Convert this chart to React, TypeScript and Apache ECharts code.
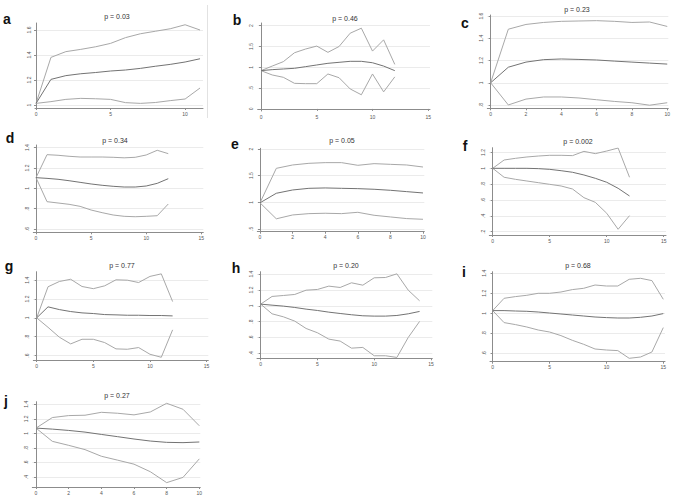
import React, { useEffect, useRef } from "react";
import * as echarts from "echarts";

const panelLetters = ["a", "b", "c", "d", "e", "f", "g", "h", "i", "j"];
const pTitles = ["p = 0.03", "p = 0.46", "p = 0.23", "p = 0.34", "p = 0.05", "p = 0.002", "p = 0.77", "p = 0.20", "p = 0.68", "p = 0.27"];

// panel a (t = 0..11)
const aUpper = [1.013, 1.381, 1.427, 1.445, 1.466, 1.493, 1.539, 1.57, 1.59, 1.61, 1.642, 1.6];
const aMid = [1.013, 1.205, 1.235, 1.25, 1.26, 1.272, 1.28, 1.293, 1.31, 1.325, 1.344, 1.37];
const aLower = [1.013, 1.027, 1.045, 1.053, 1.05, 1.045, 1.019, 1.013, 1.02, 1.035, 1.048, 1.136];
// panel b (t = 0..12)
const bUpper = [0.92, 1.03, 1.136, 1.35, 1.44, 1.51, 1.36, 1.5, 1.82, 1.94, 1.39, 1.66, 1.07];
const bMid = [0.92, 0.944, 0.96, 0.976, 1.016, 1.056, 1.096, 1.12, 1.144, 1.144, 1.11, 1.03, 0.92];
const bLower = [0.92, 0.816, 0.76, 0.615, 0.607, 0.607, 0.84, 0.75, 0.48, 0.34, 0.84, 0.41, 0.77];
// panel c (t = 0..10)
const cUpper = [1, 1.482, 1.525, 1.543, 1.553, 1.556, 1.559, 1.553, 1.543, 1.547, 1.507];
const cMid = [1, 1.14, 1.186, 1.208, 1.214, 1.21, 1.205, 1.195, 1.186, 1.177, 1.168];
const cLower = [1, 0.8, 0.853, 0.872, 0.872, 0.863, 0.847, 0.832, 0.82, 0.798, 0.82];
// panel d (t = 0..12)
const dUpper = [1.105, 1.331, 1.325, 1.315, 1.308, 1.308, 1.308, 1.305, 1.3, 1.305, 1.328, 1.374, 1.341];
const dMid = [1.105, 1.098, 1.089, 1.075, 1.059, 1.043, 1.03, 1.02, 1.013, 1.013, 1.023, 1.049, 1.095];
const dLower = [1.105, 0.869, 0.856, 0.843, 0.823, 0.787, 0.761, 0.738, 0.725, 0.721, 0.725, 0.731, 0.846];
// panel e (t = 0..10)
const eUpper = [0.99, 1.637, 1.7, 1.731, 1.744, 1.744, 1.694, 1.725, 1.712, 1.7, 1.662];
const eMid = [0.99, 1.169, 1.231, 1.262, 1.269, 1.262, 1.256, 1.244, 1.225, 1.2, 1.175];
const eLower = [0.99, 0.69, 0.762, 0.787, 0.794, 0.787, 0.812, 0.756, 0.725, 0.694, 0.681];
// panel f (t = 0..12)
const fUpper = [1, 1.105, 1.126, 1.143, 1.155, 1.164, 1.164, 1.16, 1.214, 1.185, 1.218, 1.256, 0.887];
const fMid = [1, 1, 1, 1, 0.996, 0.987, 0.97, 0.95, 0.916, 0.874, 0.824, 0.748, 0.651];
const fLower = [1, 0.887, 0.861, 0.84, 0.819, 0.798, 0.777, 0.739, 0.63, 0.571, 0.433, 0.231, 0.403];
// panel g (t = 0..12)
const gUpper = [1, 1.33, 1.386, 1.41, 1.333, 1.31, 1.34, 1.404, 1.4, 1.375, 1.44, 1.467, 1.173];
const gMid = [1, 1.117, 1.088, 1.067, 1.053, 1.046, 1.035, 1.032, 1.028, 1.028, 1.025, 1.025, 1.021];
const gLower = [1, 0.9, 0.795, 0.724, 0.773, 0.773, 0.738, 0.671, 0.667, 0.685, 0.614, 0.582, 0.873];
// panel h (t = 0..14)
const hUpper = [1.021, 1.118, 1.13, 1.143, 1.197, 1.206, 1.248, 1.231, 1.29, 1.26, 1.353, 1.357, 1.403, 1.197, 1.063];
const hMid = [1.021, 1.008, 0.996, 0.979, 0.958, 0.941, 0.92, 0.903, 0.887, 0.874, 0.87, 0.87, 0.878, 0.899, 0.929];
const hLower = [1.021, 0.899, 0.861, 0.807, 0.714, 0.66, 0.58, 0.555, 0.466, 0.475, 0.37, 0.37, 0.349, 0.601, 0.803];
// panel i (t = 0..15)
const iUpper = [1.027, 1.15, 1.167, 1.18, 1.2, 1.2, 1.213, 1.237, 1.25, 1.283, 1.273, 1.273, 1.34, 1.35, 1.327, 1.14];
const iMid = [1.027, 1.027, 1.023, 1.02, 1.013, 1.003, 0.993, 0.983, 0.973, 0.963, 0.957, 0.953, 0.953, 0.96, 0.973, 0.997];
const iLower = [1.027, 0.907, 0.887, 0.863, 0.833, 0.813, 0.777, 0.73, 0.69, 0.643, 0.633, 0.627, 0.55, 0.563, 0.613, 0.857];
// panel j (t = 0..10)
const jUpper = [1.073, 1.218, 1.245, 1.25, 1.29, 1.277, 1.255, 1.295, 1.414, 1.332, 1.105];
const jMid = [1.073, 1.059, 1.041, 1.018, 0.986, 0.955, 0.923, 0.895, 0.877, 0.873, 0.882];
const jLower = [1.073, 0.891, 0.836, 0.777, 0.686, 0.632, 0.577, 0.473, 0.323, 0.395, 0.65];

const xTicks = [
  [0, 5, 10],
  [0, 5, 10, 15],
  [0, 2, 4, 6, 8, 10],
  [0, 5, 10, 15],
  [0, 2, 4, 6, 8, 10],
  [0, 5, 10, 15],
  [0, 5, 10, 15],
  [0, 5, 10, 15],
  [0, 5, 10, 15],
  [0, 2, 4, 6, 8, 10],
];
const yTicks = [
  [1, 1.2, 1.4, 1.6],
  [0, 0.5, 1, 1.5, 2],
  [0.8, 1, 1.2, 1.4, 1.6],
  [0.6, 0.8, 1, 1.2, 1.4],
  [0.5, 1, 1.5, 2],
  [0.2, 0.4, 0.6, 0.8, 1, 1.2],
  [0.6, 0.8, 1, 1.2, 1.4],
  [0.4, 0.6, 0.8, 1, 1.2, 1.4],
  [0.6, 0.8, 1, 1.2, 1.4],
  [0.4, 0.6, 0.8, 1, 1.2, 1.4],
];

const panelSeries = [
  [aUpper, aMid, aLower],
  [bUpper, bMid, bLower],
  [cUpper, cMid, cLower],
  [dUpper, dMid, dLower],
  [eUpper, eMid, eLower],
  [fUpper, fMid, fLower],
  [gUpper, gMid, gLower],
  [hUpper, hMid, hLower],
  [iUpper, iMid, iLower],
  [jUpper, jMid, jLower],
];

// layout (pixels) and axis ranges for each panel
const layouts = [
  { left: 35, top: 23, width: 168, height: 85, xmin: -0.07, xmax: 11.2, ymin: 0.976, ymax: 1.656, lx: 7, ly: 19, tx: 117, ty: 16 },
  { left: 257.7, top: 23, width: 172.3, height: 88, xmin: -0.3, xmax: 15.16, ymin: -0.05, ymax: 2.065, lx: 237, ly: 20, tx: 345, ty: 18 },
  { left: 487.3, top: 15, width: 181, height: 93.3, xmin: -0.19, xmax: 10.06, ymin: 0.77, ymax: 1.61, lx: 465, ly: 23, tx: 577, ty: 9.5 },
  { left: 33.3, top: 145, width: 170, height: 87.3, xmin: -0.245, xmax: 15.18, ymin: 0.568, ymax: 1.426, lx: 10, ly: 138, tx: 115, ty: 140 },
  { left: 257.3, top: 148.3, width: 167, height: 83.4, xmin: -0.166, xmax: 10.08, ymin: 0.448, ymax: 2.013, lx: 235, ly: 144, tx: 342, ty: 140 },
  { left: 489.3, top: 147.7, width: 176.7, height: 87.3, xmin: -0.3, xmax: 15.2, ymin: 0.159, ymax: 1.26, lx: 465, ly: 146, tx: 578, ty: 141 },
  { left: 33.3, top: 271.7, width: 175, height: 88.3, xmin: -0.3, xmax: 15.15, ymin: 0.553, ymax: 1.49, lx: 9, ly: 266, tx: 122, ty: 265 },
  { left: 257, top: 271.7, width: 175.3, height: 86.6, xmin: -0.326, xmax: 15.12, ymin: 0.338, ymax: 1.43, lx: 236, ly: 268, tx: 346, ty: 265 },
  { left: 490, top: 271.7, width: 175, height: 90, xmin: -0.237, xmax: 15.15, ymin: 0.516, ymax: 1.416, lx: 464, ly: 272, tx: 578, ty: 265 },
  { left: 32.3, top: 401.7, width: 168, height: 86, xmin: -0.227, xmax: 10.06, ymin: 0.263, ymax: 1.436, lx: 6, ly: 401, tx: 117, ty: 395 },
];

const FONT = "Liberation Sans, Arial, sans-serif";
const CI_COLOR = "#a8a8a8";
const MID_COLOR = "#737373";

function fmtY(v: number): string {
  const s = String(Math.round(v * 100) / 100);
  return s.startsWith("0.") ? s.slice(1) : s;
}

export default function App() {
  const ref = useRef<HTMLDivElement>(null);
  useEffect(() => {
    if (!ref.current) return;
    const chart = echarts.init(ref.current, null, { renderer: "svg" });
    const grid: any[] = [];
    const xAxis: any[] = [];
    const yAxis: any[] = [];
    const series: any[] = [];
    const graphic: any[] = [];
    layouts.forEach((L, k) => {
      grid.push({ left: L.left, top: L.top, width: L.width, height: L.height, containLabel: false });
      xAxis.push({
        type: "value",
        gridIndex: k,
        min: L.xmin,
        max: L.xmax,
        axisLine: { show: true, lineStyle: { color: "#8c8c8c", width: 1 } },
        axisTick: { show: true, length: 2, customValues: xTicks[k], lineStyle: { color: "#8c8c8c" } },
        axisLabel: { customValues: xTicks[k], fontSize: 5, color: "#555", margin: 3, fontFamily: FONT },
        splitLine: { show: false },
      });
      yAxis.push({
        type: "value",
        gridIndex: k,
        min: L.ymin,
        max: L.ymax,
        axisLine: { show: true, lineStyle: { color: "#8c8c8c", width: 1 } },
        axisTick: { show: true, length: 2, customValues: yTicks[k], lineStyle: { color: "#8c8c8c" } },
        axisLabel: { customValues: yTicks[k], fontSize: 5, color: "#555", margin: 4, rotate: 90, fontFamily: FONT, formatter: (v: number) => fmtY(v) },
        splitLine: { show: true, lineStyle: { color: "#ebebeb", width: 1 } },
      });
      panelSeries[k].forEach((arr, m) => {
        series.push({
          type: "line",
          xAxisIndex: k,
          yAxisIndex: k,
          data: arr.map((v, t) => [t, v]),
          showSymbol: false,
          symbol: "none",
          silent: true,
          lineStyle: { color: m === 1 ? MID_COLOR : CI_COLOR, width: 1 },
          z: m === 1 ? 3 : 2,
        });
      });
      graphic.push({
        type: "text",
        x: L.lx,
        y: L.ly,
        style: { text: panelLetters[k], fill: "#111", font: `bold 14px ${FONT}`, align: "center", verticalAlign: "middle", textAlign: "center", textVerticalAlign: "middle" },
      });
      graphic.push({
        type: "text",
        x: L.tx,
        y: L.ty,
        style: { text: pTitles[k], fill: "#333", font: `7px ${FONT}`, align: "center", verticalAlign: "middle", textAlign: "center", textVerticalAlign: "middle" },
      });
    });
    graphic.push({
      type: "line",
      shape: { x1: 207.5, y1: 5, x2: 207.5, y2: 118 },
      style: { stroke: "#e2e2e2", lineWidth: 1 },
    });
    chart.setOption({
      animation: false,
      backgroundColor: "#ffffff",
      grid,
      xAxis,
      yAxis,
      series,
      graphic,
    });
    return () => chart.dispose();
  }, []);
  return <div ref={ref} style={{ position: "fixed", left: 0, top: 0, width: 676, height: 495 }} />;
}
